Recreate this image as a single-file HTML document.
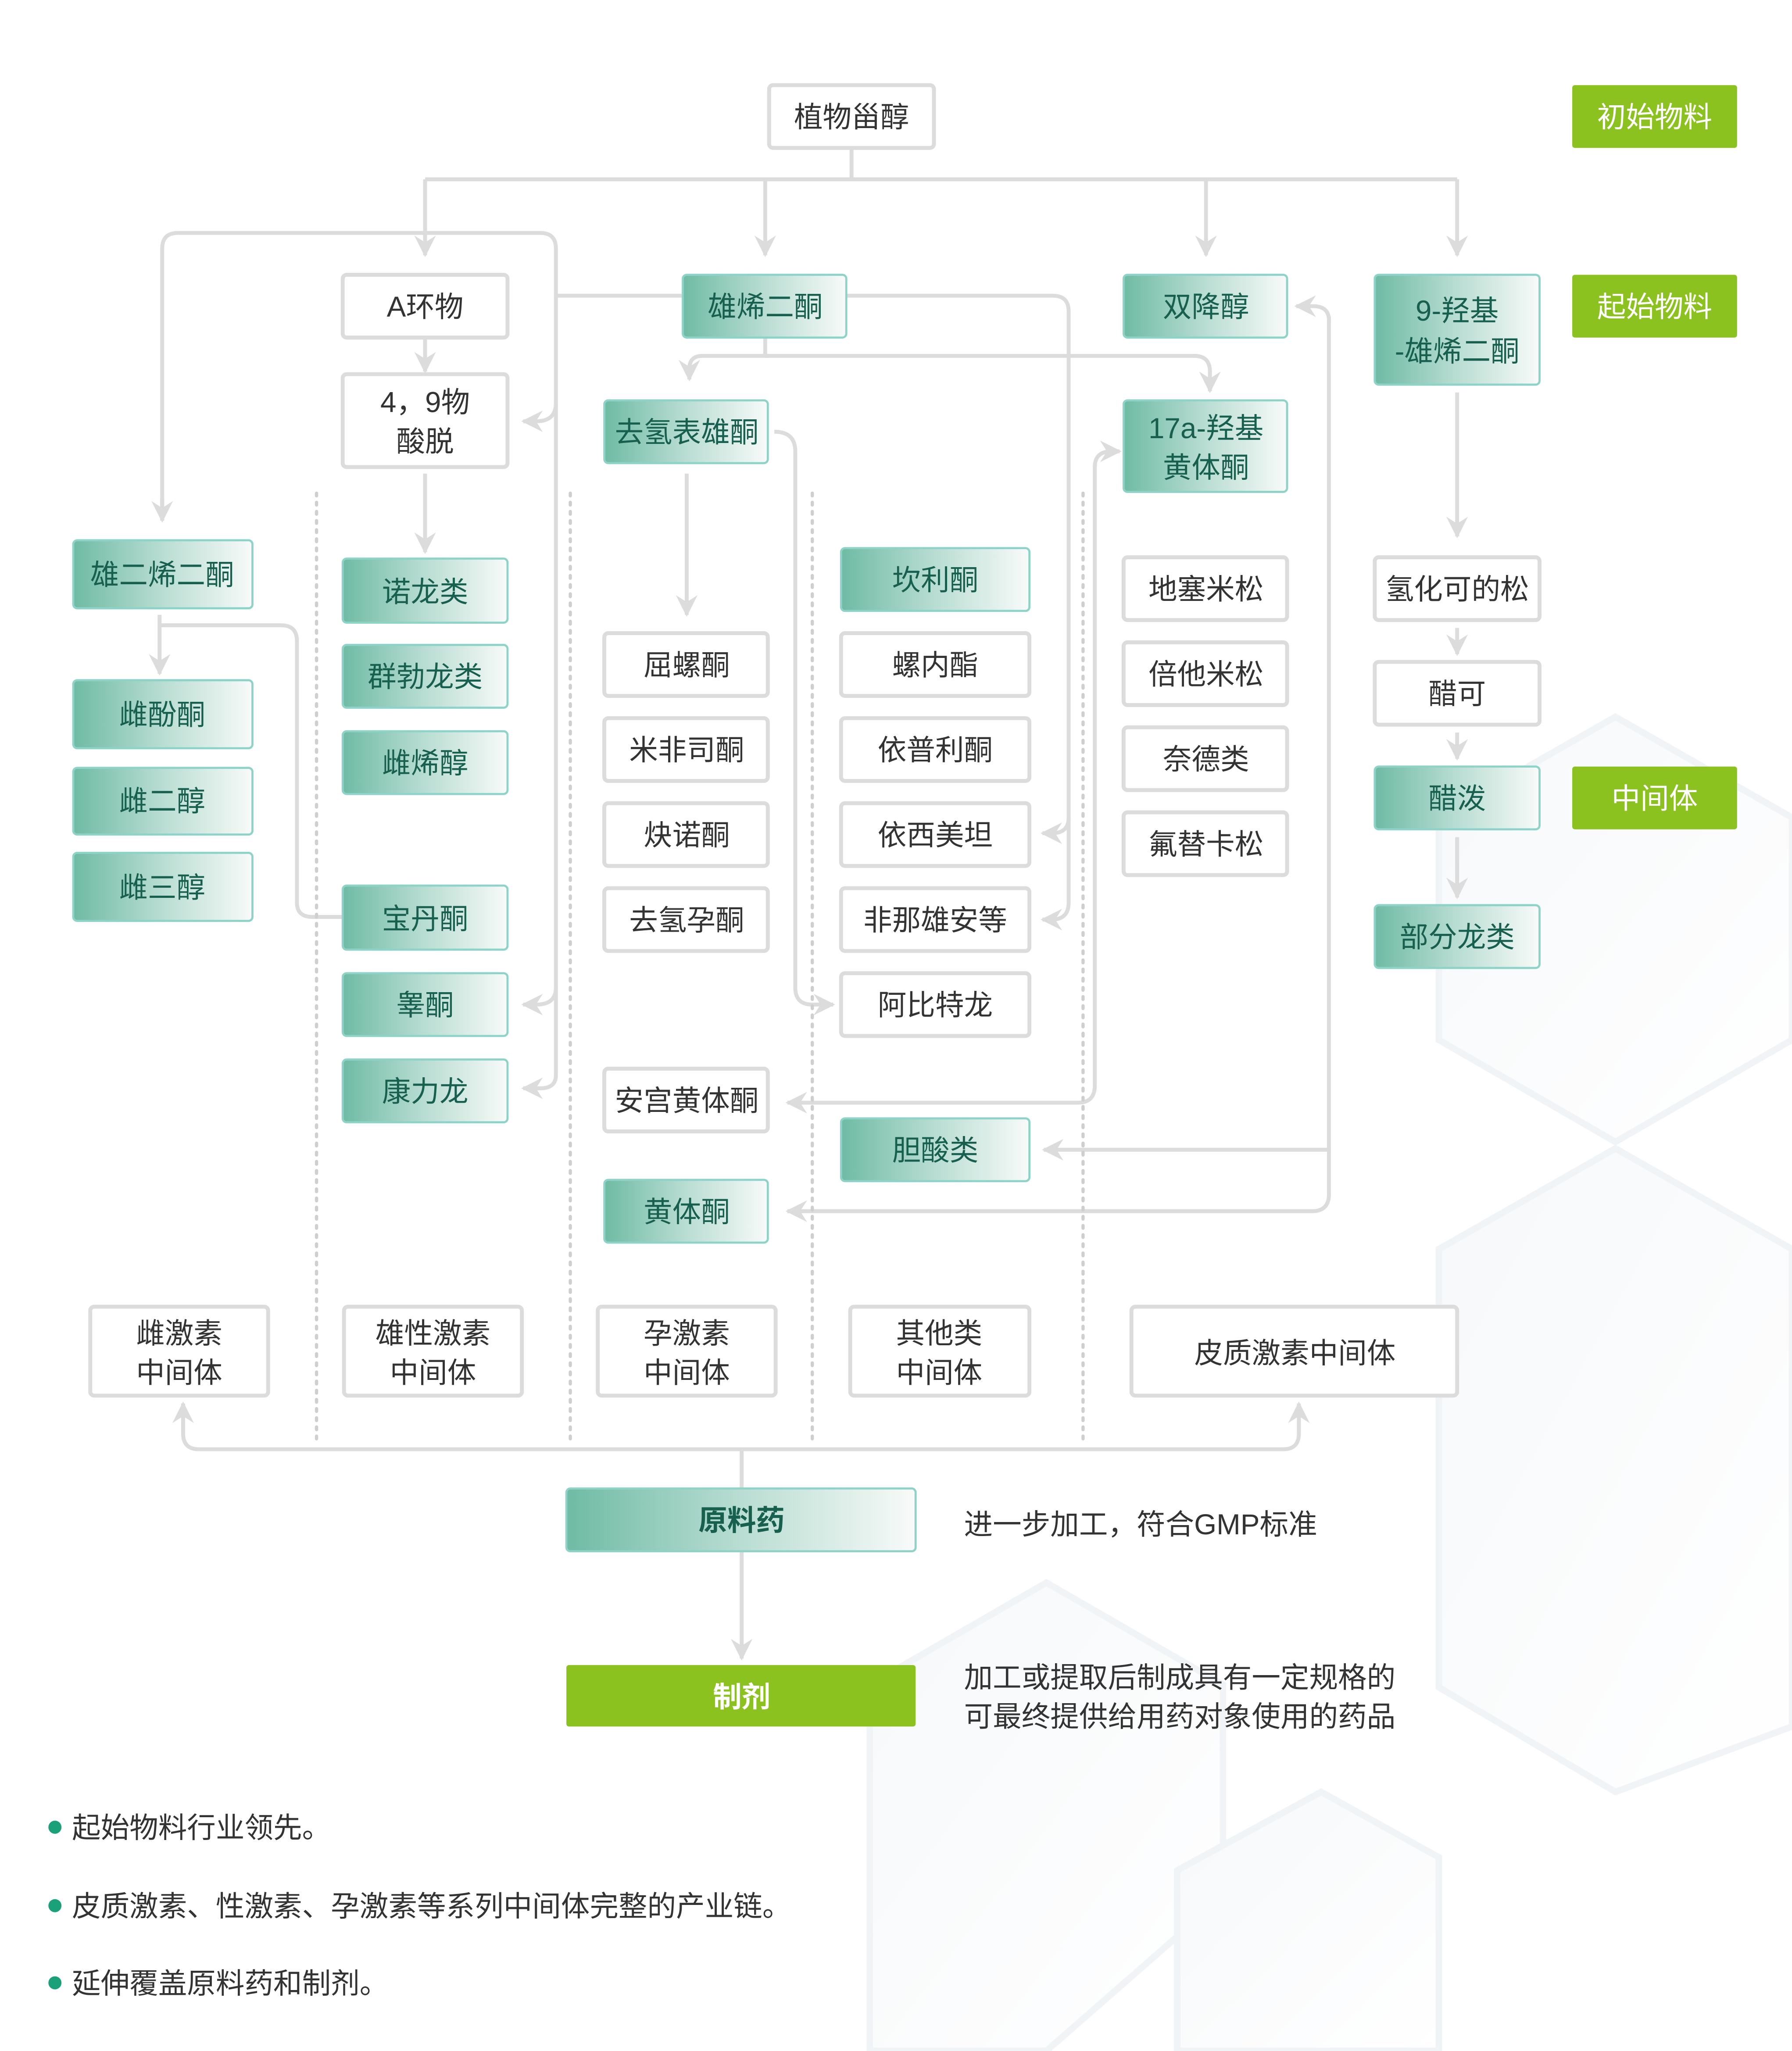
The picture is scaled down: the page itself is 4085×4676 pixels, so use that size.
<!DOCTYPE html>
<html><head><meta charset="utf-8"><style>
html,body{margin:0;padding:0;background:#fff;}
svg{display:block;}
text{font-family:"Liberation Sans","Noto Sans CJK SC",sans-serif;}
</style></head><body>
<svg width="4085" height="4676" viewBox="0 0 1370 1568" xmlns="http://www.w3.org/2000/svg">
<defs>
<linearGradient id="tg" x1="0" x2="1" y1="0" y2="0">
<stop offset="0" stop-color="#6fbba4"/><stop offset="0.5" stop-color="#b9ddd2"/><stop offset="1" stop-color="#f8faf9"/>
</linearGradient>
<linearGradient id="hx" x1="0" x2="1" y1="0" y2="1">
<stop offset="0" stop-color="#f6f8fa"/><stop offset="1" stop-color="#ffffff"/>
</linearGradient>
<marker id="ar" viewBox="0 0 12 12" refX="10" refY="6" markerWidth="18" markerHeight="18" markerUnits="userSpaceOnUse" orient="auto">
<path d="M0,0.5 L11,6 L0,11.5 L3.5,6 z" fill="#dcdcdc"/>
</marker>
</defs>
<!-- background hexagons -->
<g fill="url(#hx)" stroke="#f1f4f7" stroke-width="5">
<polygon points="1235,548 1370,625 1370,795 1235,873 1100,795 1100,625"/>
<polygon points="1235,878 1370,955 1370,1320 1235,1370 1100,1290 1100,955"/>
<polygon points="800,1210 935,1288 935,1450 800,1568 665,1568 665,1288"/>
<polygon points="1010,1370 1100,1420 1100,1568 900,1568 900,1430"/>
</g>

<g fill="none" stroke="#dcdcdc" stroke-width="3">
<path d="M651,113 V137"/>
<path d="M325,137 H1114"/>
<path d="M325,137 V195" marker-end="url(#ar)"/>
<path d="M585,137 V195" marker-end="url(#ar)"/>
<path d="M922,137 V195" marker-end="url(#ar)"/>
<path d="M1114,137 V195" marker-end="url(#ar)"/>
<path d="M522,226 H425"/>
<path d="M124,398 V190 Q124,178 136,178 H413 Q425,178 425,190 V822 Q425,832 413,832 H402" />
<path d="M124,380 V398" marker-end="url(#ar)"/>
<path d="M425,308 Q425,322 410,322 H400" marker-end="url(#ar)"/>
<path d="M425,755 Q425,768 410,768 H400" marker-end="url(#ar)"/>
<path d="M412,832 H400" marker-end="url(#ar)"/>
<path d="M325,258 V284" marker-end="url(#ar)"/>
<path d="M325,362 V422" marker-end="url(#ar)"/>
<path d="M122,470 V515" marker-end="url(#ar)"/>
<path d="M122,478 H215 Q227,478 227,490 V690 Q227,701 239,701 H262"/>
<path d="M647,226 H805 Q817,226 817,238 V690 Q817,703 804,703 H797" />
<path d="M817,625 Q817,637 804,637 H797" marker-end="url(#ar)"/>
<path d="M805,703 H797" marker-end="url(#ar)"/>
<path d="M585,258 V272 H537 Q527,272 527,282 V290" marker-end="url(#ar)"/>
<path d="M585,272 H913 Q925,272 925,284 V299" marker-end="url(#ar)"/>
<path d="M525,362 V470" marker-end="url(#ar)"/>
<path d="M592,330 Q608,330 608,345 V755 Q608,768 621,768 H637" marker-end="url(#ar)"/>
<path d="M837,357 Q837,345 850,345 H856" marker-end="url(#ar)"/>
<path d="M837,355 V830 Q837,843 824,843 H602" marker-end="url(#ar)"/>
<path d="M1016,245 Q1016,234 1004,234 H991" marker-end="url(#ar)"/>
<path d="M1016,242 V913 Q1016,926 1003,926 H602" marker-end="url(#ar)"/>
<path d="M1016,879 H798" marker-end="url(#ar)"/>
<path d="M1114,300 V410" marker-end="url(#ar)"/>
<path d="M1114,480 V500" marker-end="url(#ar)"/>
<path d="M1114,560 V580" marker-end="url(#ar)"/>
<path d="M1114,640 V686" marker-end="url(#ar)"/>
<path d="M152,1108 Q140,1108 140,1096 V1073" marker-end="url(#ar)"/>
<path d="M152,1108 H981 Q993,1108 993,1096 V1073" marker-end="url(#ar)"/>
<path d="M567,1108 V1138"/>
<path d="M567,1186 V1268" marker-end="url(#ar)"/>
</g>
<g stroke="#cfcfcf" stroke-width="2.5" stroke-dasharray="2,5" stroke-linecap="round">
<path d="M242,377 V1105"/><path d="M436,377 V1105"/><path d="M621,377 V1105"/><path d="M828,377 V1105"/>
</g>

<g fill="#fff" stroke="#dcdcdc" stroke-width="3">
<rect x="588" y="65" width="126" height="48" rx="3"/>
<rect x="262" y="210" width="126" height="48" rx="3"/>
<rect x="262" y="286" width="126" height="71" rx="3"/>
<rect x="462" y="484" width="125" height="48" rx="3"/>
<rect x="462" y="549" width="125" height="48" rx="3"/>
<rect x="462" y="614" width="125" height="48" rx="3"/>
<rect x="462" y="679" width="125" height="48" rx="3"/>
<rect x="462" y="817" width="125" height="48" rx="3"/>
<rect x="643" y="484" width="144" height="48" rx="3"/>
<rect x="643" y="549" width="144" height="48" rx="3"/>
<rect x="643" y="614" width="144" height="48" rx="3"/>
<rect x="643" y="679" width="144" height="48" rx="3"/>
<rect x="643" y="744" width="144" height="48" rx="3"/>
<rect x="859" y="426" width="125" height="48" rx="3"/>
<rect x="859" y="491" width="125" height="48" rx="3"/>
<rect x="859" y="556" width="125" height="48" rx="3"/>
<rect x="859" y="621" width="125" height="48" rx="3"/>
<rect x="1051" y="426" width="126" height="48" rx="3"/>
<rect x="1051" y="506" width="126" height="48" rx="3"/>
<rect x="69" y="999" width="136" height="68" rx="3"/>
<rect x="263" y="999" width="136" height="68" rx="3"/>
<rect x="457" y="999" width="136" height="68" rx="3"/>
<rect x="650" y="999" width="137" height="68" rx="3"/>
<rect x="865" y="999" width="249" height="68" rx="3"/>
</g>
<g fill="url(#tg)" stroke="#8dd3c8" stroke-width="1.6">
<rect x="522" y="210" width="125" height="48" rx="3"/>
<rect x="859" y="210" width="125" height="48" rx="3"/>
<rect x="1051" y="210" width="126" height="84" rx="3"/>
<rect x="462" y="306" width="125" height="48" rx="3"/>
<rect x="859" y="306" width="125" height="70" rx="3"/>
<rect x="56" y="413" width="137" height="52" rx="3"/>
<rect x="56" y="520" width="137" height="52" rx="3"/>
<rect x="56" y="587" width="137" height="51" rx="3"/>
<rect x="56" y="652" width="137" height="52" rx="3"/>
<rect x="262" y="427" width="126" height="49" rx="3"/>
<rect x="262" y="493" width="126" height="48" rx="3"/>
<rect x="262" y="559" width="126" height="48" rx="3"/>
<rect x="262" y="677" width="126" height="49" rx="3"/>
<rect x="262" y="744" width="126" height="48" rx="3"/>
<rect x="262" y="810" width="126" height="48" rx="3"/>
<rect x="643" y="419" width="144" height="48" rx="3"/>
<rect x="643" y="855" width="144" height="48" rx="3"/>
<rect x="462" y="902" width="125" height="48" rx="3"/>
<rect x="1051" y="586" width="126" height="48" rx="3"/>
<rect x="1051" y="692" width="126" height="48" rx="3"/>
<rect x="433" y="1138" width="267" height="48" rx="3"/>
</g>
<g fill="#8cc21f">
<rect x="1202" y="65" width="126" height="48" rx="2"/>
<rect x="1202" y="210" width="126" height="48" rx="2"/>
<rect x="1202" y="586" width="126" height="48" rx="2"/>
<rect x="433" y="1273" width="267" height="47" rx="2"/>
</g>

<g font-size="22" text-anchor="middle" fill="#333">
<text x="651" y="97">植物甾醇</text>
<text x="325" y="242">A环物</text>
<text x="325" y="315">4，9物</text>
<text x="325" y="345">酸脱</text>
<text x="525" y="516">屈螺酮</text>
<text x="525" y="581">米非司酮</text>
<text x="525" y="646">炔诺酮</text>
<text x="525" y="711">去氢孕酮</text>
<text x="525" y="849">安宫黄体酮</text>
<text x="715" y="516">螺内酯</text>
<text x="715" y="581">依普利酮</text>
<text x="715" y="646">依西美坦</text>
<text x="715" y="711">非那雄安等</text>
<text x="715" y="776">阿比特龙</text>
<text x="922" y="458">地塞米松</text>
<text x="922" y="523">倍他米松</text>
<text x="922" y="588">奈德类</text>
<text x="922" y="653">氟替卡松</text>
<text x="1114" y="458">氢化可的松</text>
<text x="1114" y="538">醋可</text>
<text x="137" y="1027">雌激素</text><text x="137" y="1057">中间体</text>
<text x="331" y="1027">雄性激素</text><text x="331" y="1057">中间体</text>
<text x="525" y="1027">孕激素</text><text x="525" y="1057">中间体</text>
<text x="718" y="1027">其他类</text><text x="718" y="1057">中间体</text>
<text x="990" y="1042">皮质激素中间体</text>
</g>
<g font-size="22" text-anchor="middle" fill="#17604f">
<text x="585" y="242">雄烯二酮</text>
<text x="922" y="242">双降醇</text>
<text x="1114" y="245">9-羟基</text>
<text x="1114" y="276">-雄烯二酮</text>
<text x="525" y="338">去氢表雄酮</text>
<text x="922" y="335">17a-羟基</text>
<text x="922" y="365">黄体酮</text>
<text x="124" y="447">雄二烯二酮</text>
<text x="124" y="554">雌酚酮</text>
<text x="124" y="620">雌二醇</text>
<text x="124" y="686">雌三醇</text>
<text x="325" y="460">诺龙类</text>
<text x="325" y="525">群勃龙类</text>
<text x="325" y="591">雌烯醇</text>
<text x="325" y="710">宝丹酮</text>
<text x="325" y="776">睾酮</text>
<text x="325" y="842">康力龙</text>
<text x="715" y="451">坎利酮</text>
<text x="715" y="887">胆酸类</text>
<text x="525" y="934">黄体酮</text>
<text x="1114" y="618">醋泼</text>
<text x="1114" y="724">部分龙类</text>
<text x="567" y="1170" font-weight="bold">原料药</text>
</g>
<g font-size="22" text-anchor="middle" fill="#fff">
<text x="1265" y="97">初始物料</text>
<text x="1265" y="242">起始物料</text>
<text x="1265" y="618">中间体</text>
<text x="567" y="1305" font-weight="bold">制剂</text>
</g>
<g font-size="22" fill="#333">
<text x="737" y="1173">进一步加工，符合GMP标准</text>
<text x="737" y="1290">加工或提取后制成具有一定规格的</text>
<text x="737" y="1320">可最终提供给用药对象使用的药品</text>
<text x="55" y="1405">起始物料行业领先。</text>
<text x="55" y="1465">皮质激素、性激素、孕激素等系列中间体完整的产业链。</text>
<text x="55" y="1524">延伸覆盖原料药和制剂。</text>
</g>
<g fill="#1aa17a">
<circle cx="42" cy="1397" r="5"/><circle cx="42" cy="1457" r="5"/><circle cx="42" cy="1516" r="5"/>
</g>
</svg>
</body></html>
